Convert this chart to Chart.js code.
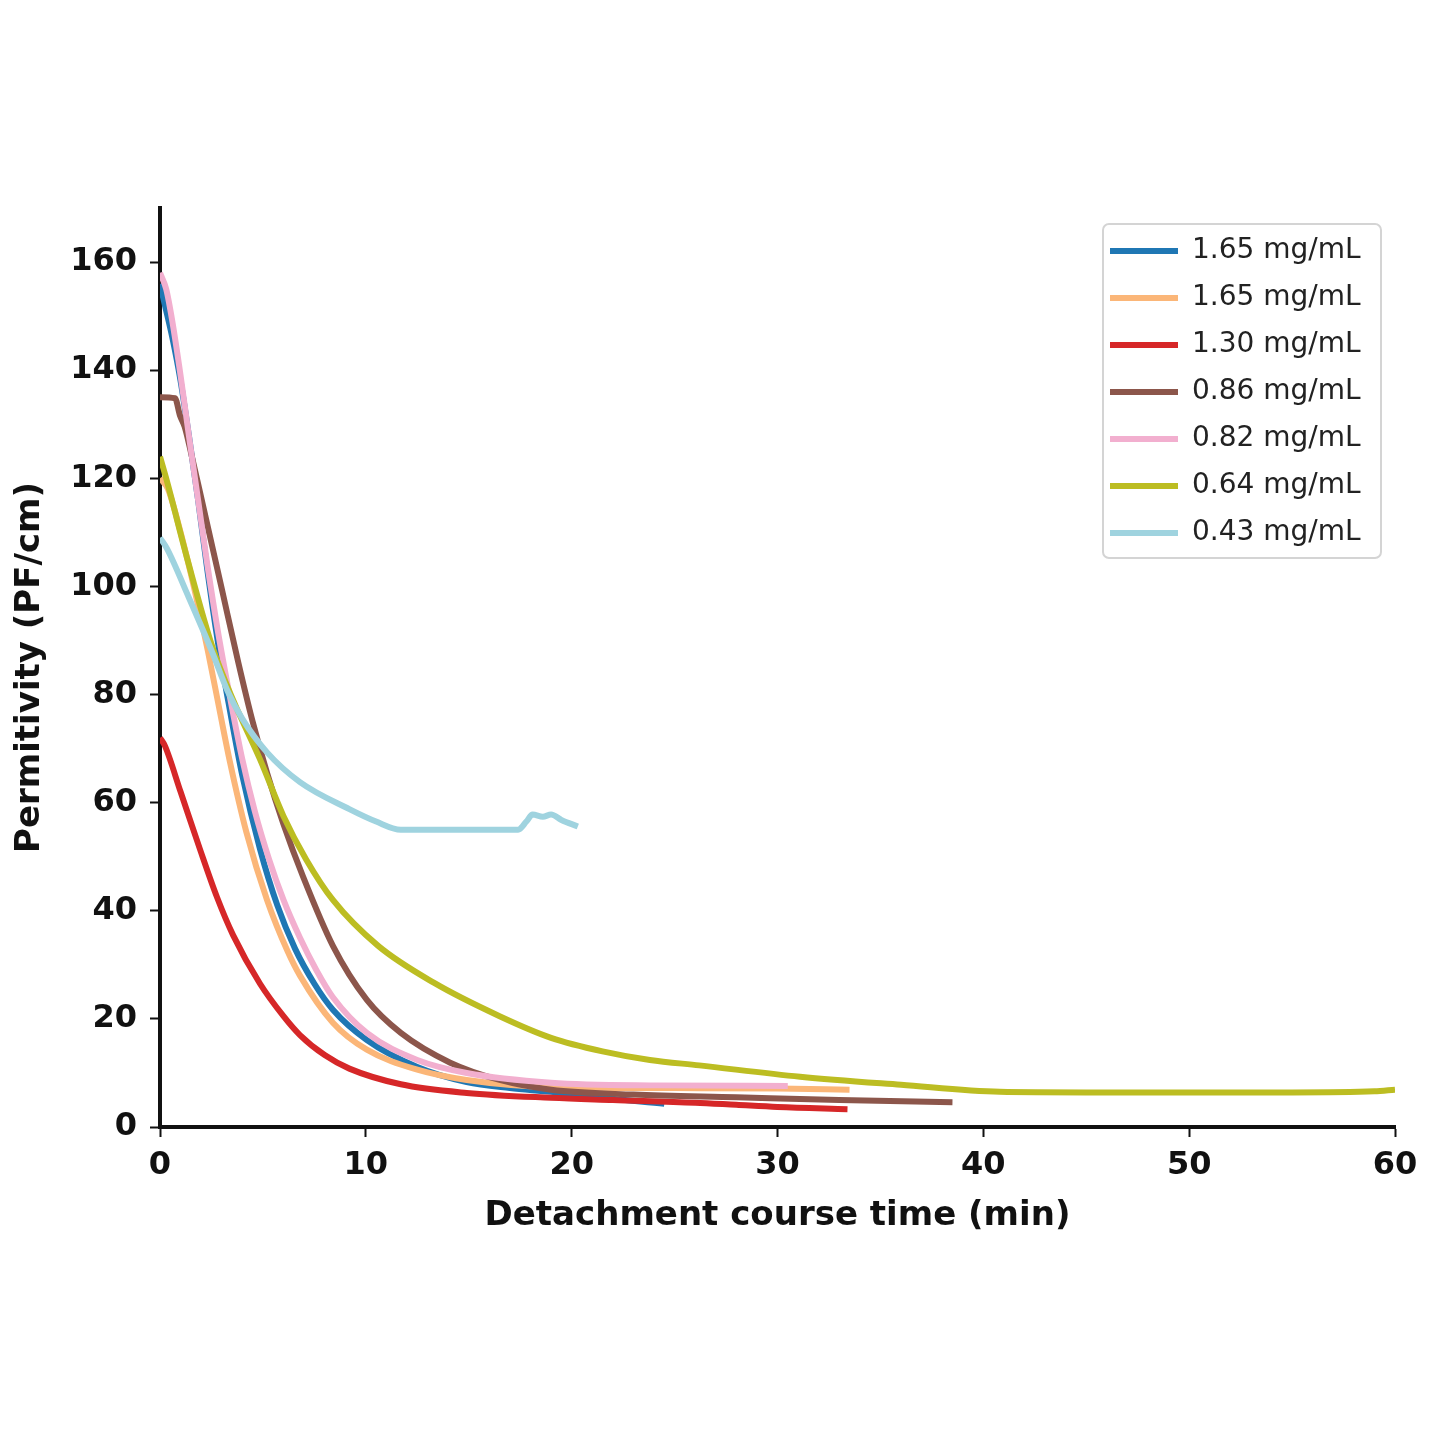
<!DOCTYPE html>
<html>
<head>
<meta charset="utf-8">
<script src="https://cdn.jsdelivr.net/npm/chart.js@4.4.0/dist/chart.umd.min.js"></script>
<style>
  body { margin: 0; background: #fff; }
  #wrap { width: 1440px; height: 1440px; }
</style>
</head>
<body>
<div id="wrap"><canvas id="myChart" width="1440" height="1440"></canvas></div>
<script>
// concentrations shown in the legend
var seriesLabels = ['1.65 mg/mL', '1.65 mg/mL', '1.30 mg/mL', '0.86 mg/mL', '0.82 mg/mL', '0.64 mg/mL', '0.43 mg/mL'];
var seriesColors = ['#1f77b4', '#fbb678', '#d62728', '#8c564b', '#f2afcf', '#bcbd22', '#9fd3df'];

// detachment time (min) and permittivity (PF/cm), one pair per curve
var time165a = [0, 0.24, 0.6, 1.0, 1.4, 1.85, 2.3, 2.8, 3.4, 4.0, 4.86, 5.7, 6.56, 7.5, 8.4, 10.05, 12.5, 14.9, 17, 19, 21, 24.5];
var perm165a = [156, 152, 146, 138, 128, 116, 103, 90, 77, 65, 51.4, 41, 33, 26.5, 21.7, 16.1, 11.1, 8.3, 7.2, 6.5, 5.6, 4.3];

var time165b = [0, 0.39, 1.0, 1.7, 2.33, 2.9, 3.4, 4.2, 5.2, 6.2, 6.8, 8.4, 10.05, 12.5, 14.9, 19, 25, 30, 33.5];
var perm165b = [120, 118, 110, 99, 88, 77, 67.5, 54.5, 42, 32.5, 28, 19.3, 14.3, 10.6, 8.7, 7.4, 7.2, 7.1, 6.9];

var time130 = [0, 0.24, 1.0, 1.94, 2.77, 3.55, 4.86, 6.0, 6.8, 8.0, 9.2, 11.7, 14.9, 19, 22, 26, 28, 30, 33.4];
var perm130 = [72, 70.5, 62, 51.4, 42.5, 35.5, 26.5, 20.5, 17, 13.3, 10.8, 7.9, 6.3, 5.4, 5.0, 4.5, 4.1, 3.7, 3.3];

var time086 = [0, 0.73, 0.97, 1.2, 1.55, 1.85, 3.0, 3.8, 4.5, 5.2, 6.0, 6.95, 8.4, 10.05, 11.7, 14.1, 16.5, 19, 23, 28, 33, 38.5];
var perm086 = [135, 134.8, 131.6, 129.5, 124, 119, 99.6, 86, 75, 65.5, 56, 46.3, 33.5, 23.5, 17.4, 11.9, 8.7, 6.9, 6.0, 5.5, 5.0, 4.6];

var time082 = [0, 0.3, 0.6, 1.0, 1.4, 1.85, 2.3, 2.8, 3.4, 4.0, 4.6, 5.3, 6.0, 6.8, 7.6, 8.4, 10.05, 12.5, 14.9, 19, 24, 30.5];
var perm082 = [158, 155, 149, 139, 128, 116, 104, 92, 79.5, 68, 58.5, 49.5, 42, 35, 29, 24, 17.4, 12.4, 10, 8.2, 7.7, 7.6];

var time064 = [0, 0.3, 1.36, 2.53, 3.55, 4.86, 6.0, 7.1, 8.4, 10.6, 13.3, 16.5, 19, 21.5, 23.8, 26.2, 31.1, 36, 40.8, 45, 50, 55, 59, 60];
var perm064 = [124, 120, 104.6, 89, 79, 68, 57.5, 49.5, 42, 33.5, 26.7, 20.5, 16.5, 14, 12.4, 11.4, 9.3, 7.8, 6.5, 6.4, 6.4, 6.4, 6.6, 6.9];

var time043 = [0, 0.34, 1.36, 2.53, 3.3, 4.0, 5.2, 6.8, 9.2, 10.5, 11.7, 14, 17.4, 17.8, 18.1, 18.6, 19.0, 19.5, 20.3];
var perm043 = [109, 107, 98.3, 87.9, 80.5, 75.5, 69.3, 63.8, 58.8, 56.5, 55, 55, 55, 56.5, 57.8, 57.4, 57.8, 56.8, 55.6];

var seriesTimes = [time165a, time165b, time130, time086, time082, time064, time043];
var seriesPerms = [perm165a, perm165b, perm130, perm086, perm082, perm064, perm043];

// axis ticks
var xTickValues = [0, 10, 20, 30, 40, 50, 60];
var yTickValues = [0, 20, 40, 60, 80, 100, 120, 140, 160];

document.addEventListener('DOMContentLoaded', function () {
    Chart.defaults.font.family = "'DejaVu Sans', sans-serif";
    Chart.defaults.color = '#111';

    var ctx = document.getElementById('myChart').getContext('2d');

    var datasets = seriesLabels.map(function (label, i) {
        return {
            label: label,
            data: seriesTimes[i].map(function (t, j) { return { x: t, y: seriesPerms[i][j] }; }),
            borderColor: seriesColors[i],
            backgroundColor: seriesColors[i],
            borderWidth: 6,
            pointRadius: 0,
            pointStyle: 'line',
            tension: 0.3,
            cubicInterpolationMode: 'monotone',
            fill: false,
            order: seriesLabels.length - i
        };
    });

    // move the legend into the top right corner and give it a frame
    var legendBox = {
        id: 'legendBox',
        afterLayout: function (chart) {
            var lg = chart.legend;
            var w = lg.width, h = lg.height;
            lg.left = chart.chartArea.right - 304;
            lg.top = chart.chartArea.top + 10;
            lg.right = lg.left + w;
            lg.bottom = lg.top + h;
        },
        beforeDraw: function (chart) {
            var c = chart.ctx;
            var x = chart.chartArea.right - 292, y = chart.chartArea.top + 16;
            var w = 278, h = 334, r = 6;
            c.save();
            c.fillStyle = '#fff';
            c.strokeStyle = '#d4d4d4';
            c.lineWidth = 2;
            c.beginPath();
            c.roundRect(x, y, w, h, r);
            c.fill();
            c.stroke();
            c.restore();
        }
    };

    var myChart = new Chart(ctx, {
        type: 'line',
        data: { datasets: datasets },
        plugins: [legendBox],
        options: {
            responsive: false,
            animation: false,
            devicePixelRatio: 1,
            layout: {
                padding: { left: 10, top: 208, right: 45, bottom: 203 }
            },
            plugins: {
                legend: {
                    position: 'chartArea',
                    align: 'start',
                    labels: {
                        usePointStyle: true,
                        pointStyleWidth: 68,
                        boxHeight: 4,
                        padding: 19,
                        color: '#222',
                        font: { size: 28 },
                        sort: function (a, b) { return a.datasetIndex - b.datasetIndex; }
                    }
                },
                tooltip: { enabled: false }
            },
            scales: {
                x: {
                    type: 'linear',
                    min: 0,
                    max: 60,
                    afterFit: function (scale) { scale.height = 110; },
                    afterBuildTicks: function (scale) {
                        scale.ticks = xTickValues.map(function (v) { return { value: v }; });
                    },
                    ticks: {
                        padding: 9,
                        maxRotation: 0,
                        color: '#111',
                        font: { size: 32, weight: 'bold' }
                    },
                    grid: {
                        drawOnChartArea: false,
                        drawTicks: true,
                        tickLength: 10,
                        tickWidth: 2,
                        tickColor: '#111'
                    },
                    border: { display: true, color: '#111', width: 4 },
                    title: {
                        display: true,
                        text: 'Detachment course time (min)',
                        color: '#111',
                        padding: 0,
                        font: { size: 34, weight: 'bold' }
                    }
                },
                y: {
                    min: 0,
                    max: 170,
                    afterFit: function (scale) { scale.width = 150; },
                    afterBuildTicks: function (scale) {
                        scale.ticks = yTickValues.map(function (v) { return { value: v }; });
                    },
                    ticks: {
                        padding: 13,
                        color: '#111',
                        font: { size: 32, weight: 'bold' }
                    },
                    grid: {
                        drawOnChartArea: false,
                        drawTicks: true,
                        tickLength: 10,
                        tickWidth: 2,
                        tickColor: '#111'
                    },
                    border: { display: true, color: '#111', width: 4 },
                    title: {
                        display: true,
                        text: 'Permitivity (PF/cm)',
                        color: '#111',
                        padding: 0,
                        font: { size: 34, weight: 'bold' }
                    }
                }
            }
        }
    });
});
</script>
</body>
</html>
